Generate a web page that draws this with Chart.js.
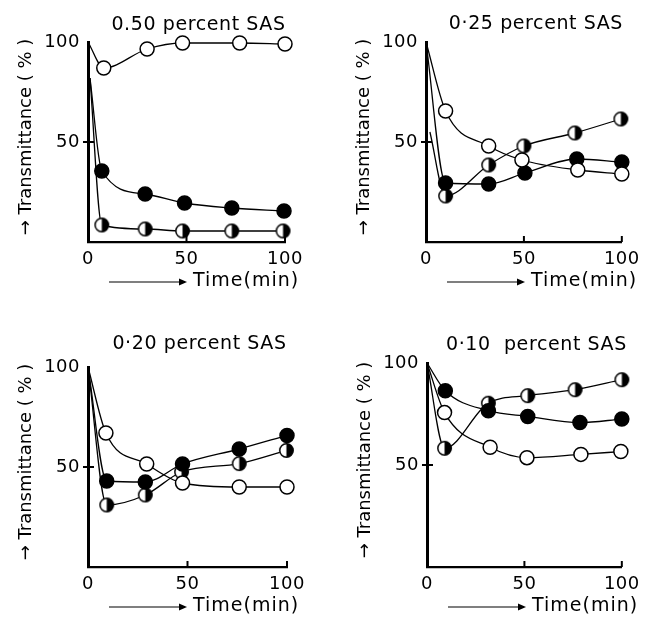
<!DOCTYPE html>
<html>
<head>
<meta charset="utf-8">
<script src="https://cdn.jsdelivr.net/npm/chart.js@4.4.1/dist/chart.umd.min.js"></script>
<style>
  html, body { margin: 0; padding: 0; background: #fff; }
  #wrap { position: relative; width: 646px; height: 619px; }
  canvas { position: absolute; }
</style>
</head>
<body>
<div id="wrap">
  <canvas id="p50" width="323" height="305" style="left:0;top:0"></canvas>
  <canvas id="p25" width="323" height="305" style="left:323px;top:0"></canvas>
  <canvas id="p20" width="323" height="314" style="left:0;top:305px"></canvas>
  <canvas id="p10" width="323" height="314" style="left:323px;top:305px"></canvas>
</div>
<script>
// axis ticks shared by all four panels
const timeTicks = [0, 50, 100]
const transTicks = [50, 100]

// 0.50 percent SAS  (first entry of each series is where the curve starts, no marker)
const sas50OpenTime = [0, 8, 30, 48, 77, 100]
const sas50Open = [100, 87, 96.5, 99.5, 99.5, 99]
const sas50FilledTime = [1, 7, 29, 49, 73, 99.5]
const sas50Filled = [82, 35.5, 24, 19.5, 17, 15.5]
const sas50HalfTime = [1, 7, 29, 48, 73, 99]
const sas50Half = [82, 8.5, 6.5, 5.5, 5.5, 5.5]

// 0.25 percent SAS
const sas25OpenTime = [0, 10, 32, 49, 77.5, 100]
const sas25Open = [100, 65.5, 48, 41, 36, 34]
const sas25FilledTime = [0, 10, 32, 50.5, 77, 100]
const sas25Filled = [100, 29.5, 29, 34.5, 41.5, 40]
const sas25HalfTime = [2, 10, 32, 50, 76, 99.5]
const sas25Half = [55, 23, 38.5, 48, 54.5, 61.5]

// 0.20 percent SAS
const sas20OpenTime = [0, 9, 29.5, 47.5, 76, 100]
const sas20Open = [100, 67, 51.5, 42, 40, 40]
const sas20FilledTime = [0, 9.4, 28.8, 47.5, 76, 100]
const sas20Filled = [100, 43, 42.5, 51.5, 59, 65.8]
const sas20HalfTime = [0, 9.4, 28.8, 47, 76, 99.7]
const sas20Half = [100, 31, 36, 47.5, 51.7, 58.3]

// 0.10 percent SAS
const sas10OpenTime = [0, 9, 32.4, 51.3, 79, 99.5]
const sas10Open = [100, 75.7, 58.7, 53.6, 55.2, 56.6]
const sas10FilledTime = [0, 9.4, 31.5, 51.7, 78.5, 100]
const sas10Filled = [100, 86.4, 76.6, 73.8, 70.8, 72.5]
const sas10HalfTime = [0, 9, 31.5, 51.7, 76, 100]
const sas10Half = [100, 58.2, 80.3, 84, 86.9, 91.8]

const FONT = '"DejaVu Sans"'

// half-filled marker (right half black)
function halfDot(r) {
	const c = document.createElement('canvas')
	const s = Math.ceil(r * 2 + 3)
	c.width = s
	c.height = s
	const g = c.getContext('2d')
	const m = s / 2
	g.fillStyle = '#fff'
	g.beginPath(); g.arc(m, m, r, 0, Math.PI * 2); g.fill()
	g.fillStyle = '#000'
	g.beginPath(); g.arc(m, m, r, -Math.PI / 2, Math.PI / 2); g.closePath(); g.fill()
	g.lineWidth = 1.5
	g.strokeStyle = '#000'
	g.beginPath(); g.arc(m, m, r - 0.3, 0, Math.PI * 2); g.stroke()
	return c
}
const halfImg = halfDot(7)

function series(xs, ys, kind) {
	return {
		data: xs.map((x, i) => ({ x: x, y: ys[i] })),
		borderColor: '#000',
		borderWidth: 1.3,
		cubicInterpolationMode: 'monotone',
		pointRadius: c => c.dataIndex === 0 ? 0 : 7,
		pointBackgroundColor: kind === 'filled' ? '#000' : '#fff',
		pointBorderColor: '#000',
		pointBorderWidth: 1.5,
		pointStyle: kind === 'half' ? halfImg : 'circle',
		clip: false
	}
}

// title, axis captions and the small inside ticks
const panelText = {
	id: 'panelText',
	beforeDraw(chart) {
		chart.ctx.letterSpacing = '0.5px'
	},
	afterDraw(chart, args, opts) {
		const ctx = chart.ctx
		const a = chart.chartArea
		const xs = chart.scales.x
		const ys = chart.scales.y
		ctx.save()
		ctx.fillStyle = '#000'
		ctx.strokeStyle = '#000'
		ctx.textBaseline = 'middle'

		ctx.font = '19px ' + FONT
		ctx.letterSpacing = '0.6px'
		ctx.textAlign = 'center'
		ctx.fillText(opts.title, (a.left + a.right) / 2 + 12, opts.titleY)

		ctx.save()
		ctx.font = '18px ' + FONT
		ctx.letterSpacing = '0px'
		ctx.translate(a.left - 62, (a.top + a.bottom) / 2 - 5)
		ctx.rotate(-Math.PI / 2)
		ctx.fillText('\u2192 Transmittance ( % )', 0, 0)
		ctx.restore()

		const ay = a.bottom + 40
		ctx.lineWidth = 1.2
		ctx.beginPath()
		ctx.moveTo(a.left + 21, ay)
		ctx.lineTo(a.left + 97, ay)
		ctx.stroke()
		ctx.beginPath()
		ctx.moveTo(a.left + 99, ay)
		ctx.lineTo(a.left + 91, ay - 3.5)
		ctx.lineTo(a.left + 91, ay + 3.5)
		ctx.closePath()
		ctx.fill()
		ctx.font = '19px ' + FONT
		ctx.letterSpacing = '1px'
		ctx.textAlign = 'left'
		ctx.fillText('Time(min)', a.left + 105, ay - 1)

		ctx.lineWidth = 2
		for (const v of [50, 100]) {
			const px = xs.getPixelForValue(v)
			ctx.beginPath()
			ctx.moveTo(px, a.bottom)
			ctx.lineTo(px, a.bottom - 6)
			ctx.stroke()
		}
		const py = ys.getPixelForValue(50)
		ctx.beginPath()
		ctx.moveTo(a.left - 5, py)
		ctx.lineTo(a.left + 6, py)
		ctx.stroke()
		ctx.restore()
	}
}

function makePanel(id, box, title, titleY, datasets) {
	const canvas = document.getElementById(id)
	const W = canvas.width
	const H = canvas.height
	return new Chart(canvas, {
		type: 'line',
		data: { datasets: datasets },
		plugins: [panelText],
		options: {
			responsive: false,
			animation: false,
			devicePixelRatio: 1,
			layout: { padding: { left: 0, top: box.top, right: W - box.right, bottom: 0 } },
			plugins: {
				legend: { display: false },
				tooltip: { enabled: false },
				panelText: { title: title, titleY: titleY }
			},
			scales: {
				x: {
					type: 'linear', min: 0, max: 100,
					afterBuildTicks: s => { s.ticks = timeTicks.map(v => ({ value: v })) },
					afterFit: s => { s.height = H - box.bottom },
					grid: { display: true, drawOnChartArea: false, drawTicks: false, color: 'rgba(0,0,0,0)' },
					border: { display: true, color: '#000', width: 2.2 },
					ticks: { padding: 7, color: '#000', maxRotation: 0, font: { family: FONT, size: 18 } }
				},
				y: {
					type: 'linear', min: 0, max: 100,
					afterBuildTicks: s => { s.ticks = transTicks.map(v => ({ value: v })) },
					afterFit: s => { s.width = box.left },
					grid: { display: true, drawOnChartArea: false, drawTicks: false, color: 'rgba(0,0,0,0)' },
					border: { display: true, color: '#000', width: 3 },
					ticks: { padding: 8, color: '#000', font: { family: FONT, size: 18 } }
				}
			}
		}
	})
}

makePanel('p50', { left: 88, top: 42, right: 285, bottom: 242 }, '0.50 percent SAS', 25, [
	series(sas50OpenTime, sas50Open, 'open'),
	series(sas50FilledTime, sas50Filled, 'filled'),
	series(sas50HalfTime, sas50Half, 'half')
])
makePanel('p25', { left: 103, top: 42, right: 303, bottom: 242 }, '0\u00b725 percent SAS', 24, [
	series(sas25OpenTime, sas25Open, 'open'),
	series(sas25FilledTime, sas25Filled, 'filled'),
	series(sas25HalfTime, sas25Half, 'half')
])
makePanel('p20', { left: 88, top: 62, right: 287, bottom: 262 }, '0\u00b720 percent SAS', 39, [
	series(sas20OpenTime, sas20Open, 'open'),
	series(sas20FilledTime, sas20Filled, 'filled'),
	series(sas20HalfTime, sas20Half, 'half')
])
makePanel('p10', { left: 104, top: 58, right: 303, bottom: 262 }, '0\u00b710  percent SAS', 40, [
	series(sas10OpenTime, sas10Open, 'open'),
	series(sas10FilledTime, sas10Filled, 'filled'),
	series(sas10HalfTime, sas10Half, 'half')
])
</script>
</body>
</html>
